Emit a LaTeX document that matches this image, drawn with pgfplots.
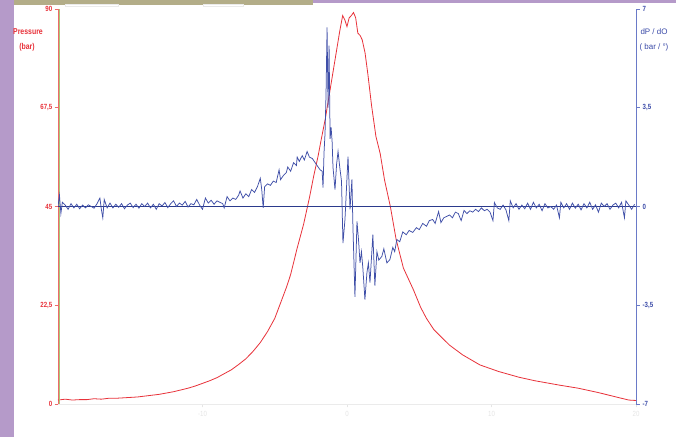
\documentclass[border=0pt]{standalone}
\usepackage{pgfplots}
\pgfplotsset{compat=1.18}
\usepackage{fontspec}
\setmainfont{Liberation Sans}
\newfontfamily\narrowfont[FakeStretch=0.82]{Liberation Sans}
\definecolor{pred}{HTML}{E8323A}
\definecolor{pblue}{HTML}{3F4FA8}
\definecolor{raxis}{HTML}{6A7AC8}
\definecolor{rlab}{HTML}{3A4AA8}
\definecolor{navy}{HTML}{2B3A8C}
\definecolor{purp}{HTML}{B59AC9}
\definecolor{khaki}{HTML}{B3AD88}
\definecolor{lgreen}{HTML}{A9C97A}
\definecolor{laxis}{HTML}{EE6A6A}

\pgfplotstableread{
x y
-20 0.9
-19.5 1.1
-19 0.9
-18.5 1.0
-18 1.0
-17.5 1.2
-17 1.1
-16.5 1.3
-16 1.3
-15.5 1.4
-15 1.5
-14.5 1.6
-14 1.8
-13.5 2.0
-13 2.2
-12.5 2.5
-12 2.8
-11.5 3.2
-11 3.6
-10.5 4.1
-10 4.7
-9.5 5.3
-9 6.0
-8.5 6.9
-8 7.8
-7.5 9.0
-7 10.3
-6.5 12
-6 14
-5.5 16.5
-5 19.5
-4.6 23
-4.2 26.5
-3.9 29.5
-3.45 35.5
-3.0 41
-2.6 47
-2.3 52
-2.0 56.5
-1.8 60
-1.5 65
-1.2 71
-0.9 77
-0.7 81
-0.5 85
-0.3 88.5
-0.15 87.5
0.0 86
0.15 88
0.3 88.5
0.45 89.2
0.6 88
0.75 84.5
0.9 84
1.05 83
1.25 80
1.45 75
1.7 68
2.0 61
2.3 57
2.6 51
3.0 45
3.4 37.5
3.9 31
4.6 26
5.1 22
5.5 19.5
6.0 17
6.6 15
7.1 13.4
8 11.2
9.2 8.9
10.5 7.4
11.9 6.1
13 5.3
14.7 4.3
16 3.6
17.4 2.6
18.5 1.7
19.5 0.9
20 0.8
}\pressure

\pgfplotstableread{
x y
-20.0 0.0
-19.9 0.4
-19.8 -0.25
-19.7 0.15
-19.5 0.05
-19.3 -0.1
-19.1 0.1
-18.9 -0.05
-18.7 0.08
-18.5 -0.08
-18.3 0.05
-18.1 -0.05
-17.9 0.06
-17.7 0.0
-17.5 -0.06
-17.3 0.1
-17.1 0.3
-17.0 -0.1
-16.9 -0.4
-16.8 0.25
-16.6 -0.05
-16.4 0.12
-16.2 -0.05
-16.0 0.08
-15.8 -0.03
-15.6 0.1
-15.4 -0.08
-15.2 0.05
-15.0 0.12
-14.8 -0.04
-14.6 0.08
-14.4 -0.06
-14.2 0.1
-14.0 0.0
-13.8 0.12
-13.6 -0.05
-13.4 0.08
-13.2 -0.1
-13.0 0.1
-12.8 0.02
-12.6 0.14
-12.4 -0.04
-12.2 0.1
-12.0 0.2
-11.8 0.0
-11.6 0.12
-11.4 0.05
-11.2 0.18
-11.0 -0.02
-10.8 0.1
-10.6 0.06
-10.4 0.25
-10.2 0.05
-10.0 -0.1
-9.8 0.3
-9.6 0.12
-9.4 0.22
-9.2 0.08
-9.0 0.2
-8.8 0.15
-8.6 0.1
-8.5 -0.05
-8.3 0.35
-8.1 0.2
-7.9 0.3
-7.7 0.25
-7.5 0.4
-7.4 0.55
-7.2 0.3
-7.0 0.45
-6.8 0.35
-6.6 0.6
-6.4 0.5
-6.2 0.7
-6.0 1.0
-5.9 0.6
-5.8 -0.05
-5.7 0.7
-5.5 0.8
-5.3 0.75
-5.1 0.9
-4.9 0.85
-4.7 1.3
-4.6 0.95
-4.4 1.1
-4.2 1.2
-4.1 1.4
-3.9 1.25
-3.7 1.55
-3.5 1.45
-3.45 1.75
-3.3 1.6
-3.1 1.8
-2.95 1.65
-2.76 1.95
-2.6 1.75
-2.4 1.7
-2.2 1.55
-2.0 1.4
-1.86 1.3
-1.72 1.25
-1.66 0.67
-1.59 1.9
-1.52 2.6
-1.45 4.0
-1.38 6.35
-1.31 3.5
-1.24 5.7
-1.17 2.4
-1.1 2.8
-1.03 2.3
-0.97 1.4
-0.83 0.6
-0.72 1.5
-0.62 1.95
-0.48 1.3
-0.38 0.9
-0.28 -1.3
-0.14 -0.46
0.07 1.77
0.21 -0.1
0.34 0.96
0.41 -0.7
0.55 -3.2
0.69 -0.53
0.8 -1.2
0.9 -2.0
1.0 -1.6
1.1 -2.2
1.24 -3.3
1.38 -2.34
1.48 -2.0
1.59 -2.7
1.79 -1.0
1.93 -2.8
2.07 -1.6
2.2 -1.9
2.41 -1.77
2.55 -1.5
2.76 -2.0
2.97 -1.88
3.17 -1.45
3.3 -1.6
3.45 -1.17
3.65 -1.25
3.86 -0.9
4.1 -1.0
4.3 -0.85
4.55 -0.92
4.8 -0.75
5.0 -0.82
5.24 -0.6
5.5 -0.7
5.7 -0.5
5.93 -0.46
6.1 -0.6
6.34 -0.18
6.5 -0.57
6.7 -0.4
6.9 -0.35
7.1 -0.3
7.3 -0.4
7.5 -0.2
7.7 -0.25
7.9 -0.5
8.1 -0.14
8.3 -0.25
8.5 -0.15
8.7 -0.2
8.9 -0.1
9.1 -0.18
9.3 -0.05
9.5 -0.15
9.7 -0.1
9.9 -0.2
10.1 -0.5
10.2 0.14
10.4 -0.05
10.6 -0.1
10.8 0.05
11.0 -0.12
11.2 -0.5
11.3 0.2
11.5 -0.05
11.7 0.1
11.9 -0.1
12.1 0.05
12.3 -0.08
12.5 0.12
12.7 -0.1
12.9 0.15
13.1 -0.05
13.3 0.08
13.5 -0.15
13.7 0.1
13.9 -0.05
14.1 0.0
14.3 -0.1
14.5 0.05
14.7 -0.4
14.8 0.15
15.0 -0.05
15.2 0.1
15.4 -0.1
15.6 0.12
15.8 -0.06
16.0 0.08
16.2 -0.12
16.4 0.1
16.6 -0.05
16.8 0.15
17.0 -0.1
17.2 0.06
17.4 -0.2
17.6 0.12
17.8 0.0
18.0 0.1
18.2 -0.1
18.4 0.05
18.6 0.12
18.8 -0.05
19.0 0.15
19.2 -0.4
19.3 0.2
19.5 0.05
19.7 -0.1
19.9 0.08
}\dpdo

\begin{document}
\begin{tikzpicture}
\fill[white] (0bp,0bp) rectangle (676bp,437bp);
\fill[khaki] (0bp,432bp) rectangle (313bp,437bp);
\draw[black!8] (65bp,431bp) rectangle (118bp,433bp);
\draw[black!8] (203bp,431bp) rectangle (243bp,433bp);
\fill[purp] (313bp,433.5bp) rectangle (676bp,437bp);
\fill[purp] (0bp,0bp) rectangle (13.5bp,437bp);

\begin{axis}[
  at={(58bp,33bp)}, anchor=south west,
  scale only axis, width=578bp, height=395bp,
  xmin=-20, xmax=20, ymin=0, ymax=90,
  axis y line*=left, axis x line*=bottom,
  x axis line style={-, draw=black!8},
  y axis line style={-, draw=laxis, line width=0.9bp},
  tick align=outside,
  major tick length=3.5bp,
  xtick={-10,0,10,20},
  xticklabels={-10,0,10,20},
  xtick style={draw=black!10},
  xticklabel style={text=black!10, font=\narrowfont\fontsize{7.5}{8}\selectfont},
  ytick={0,22.5,45,67.5,90},
  yticklabels={0,{22,5},45,{67,5},90},
  ytick style={draw=laxis, line width=0.7bp},
  yticklabel style={text=pred, font=\narrowfont\bfseries\fontsize{7.5}{8}\selectfont, inner xsep=2bp},
  clip=false,
]
\addplot[pred, line width=0.8bp] table[x=x,y=y] {\pressure};
\draw[lgreen, line width=1bp] ([xshift=1.5bp]rel axis cs:0,0) -- ([xshift=1.5bp]rel axis cs:0,1);
\end{axis}

\begin{axis}[
  at={(58bp,33bp)}, anchor=south west,
  scale only axis, width=578bp, height=395bp,
  xmin=-20, xmax=20, ymin=-7, ymax=7,
  axis y line*=right, axis x line=none,
  y axis line style={-, draw=raxis, line width=0.9bp},
  tick align=outside,
  major tick length=3.5bp,
  ytick={-7,-3.5,0,3.5,7},
  yticklabels={-7,{-3,5},0,{3,5},7},
  ytick style={draw=raxis, line width=0.7bp},
  yticklabel style={text=rlab, font=\narrowfont\bfseries\fontsize{7.5}{8}\selectfont, inner xsep=3bp},
]
\addplot[navy, line width=0.7bp] coordinates {(-20,0) (20,0)};
\addplot[pblue, line width=0.75bp] table[x=x,y=y] {\dpdo};
\end{axis}

\node[text=pred, font=\narrowfont\bfseries\fontsize{8.5}{9}\selectfont] at (28bp,405bp) {Pressure};
\node[text=pred, font=\narrowfont\bfseries\fontsize{8.5}{9}\selectfont] at (27bp,390bp) {(bar)};
\node[text=rlab, anchor=west, font=\fontsize{8}{9}\selectfont] at (637bp,405bp) {dP / dO};
\node[text=rlab, anchor=west, font=\fontsize{8}{9}\selectfont] at (636bp,390bp) {( bar / °)};
\end{tikzpicture}
\end{document}
